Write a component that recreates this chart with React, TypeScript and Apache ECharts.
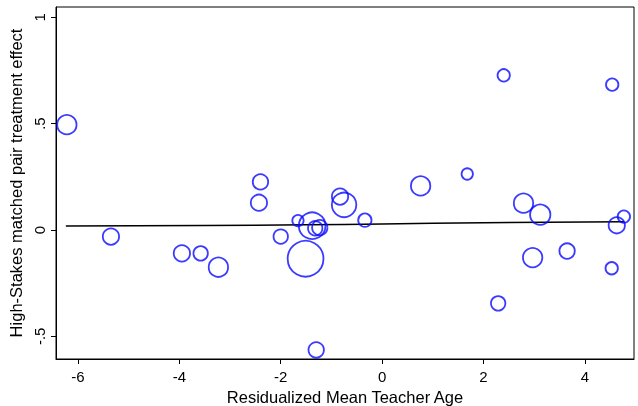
import React, { useEffect, useRef } from "react";
import * as echarts from "echarts";

// Bubble data: residualized mean teacher age (x), treatment effect (y), weight (bubble area)
const xValues = [
  -6.22, -5.35, -3.95, -3.58, -3.23, -2.40, -2.43, -2.00, -1.66, -1.51,
  -1.38, -1.32, -1.23, -1.30, -0.83, -0.75, -0.34, 0.76, 1.68, 2.29,
  2.40, 2.79, 3.12, 2.97, 3.65, 4.54, 4.53, 4.63, 4.77,
];
const yValues = [
  0.495, -0.031, -0.110, -0.110, -0.175, 0.226, 0.128, -0.031, 0.044, -0.135,
  0.020, 0.008, 0.011, -0.564, 0.157, 0.118, 0.046, 0.207, 0.263, -0.345,
  0.727, 0.126, 0.072, -0.130, -0.099, 0.683, -0.180, 0.022, 0.063,
];
const weights = [
  110, 80, 80, 64, 110, 72, 80, 64, 42, 350,
  200, 64, 72, 72, 80, 170, 56, 110, 42, 64,
  49, 110, 120, 110, 72, 49, 49, 80, 49,
];

// Fitted line
const fitX = [-6.24, -3.5, -1.5, 0, 2, 4.77];
const fitY = [0.019, 0.021, 0.024, 0.028, 0.034, 0.039];

const xTicks = [-6, -4, -2, 0, 2, 4];
const yTicks = [-0.5, 0, 0.5, 1];

const fmtY = (v: number) => {
  if (v === 0) return "0";
  if (v === 1) return "1";
  const s = String(v);
  return s.replace(/^(-?)0\./, "$1.");
};

export default function App() {
  const ref = useRef<HTMLDivElement>(null);
  useEffect(() => {
    if (!ref.current) return;
    const chart = echarts.init(ref.current, undefined, { renderer: "svg" });
    const font = "'Liberation Sans', Arial, Helvetica, sans-serif";
    const bubbles = xValues.map((x, i) => [x, yValues[i], weights[i]]);
    const fit = fitX.map((x, i) => [x, fitY[i]]);
    chart.setOption({
      animation: false,
      textStyle: { fontFamily: font },
      grid: {
        left: 56,
        top: 7,
        right: 4,
        bottom: 47,
        outerBoundsMode: "none",
        containLabel: false,
        show: true,
        borderColor: "#000",
        borderWidth: 1,
        backgroundColor: "#fff",
      },
      xAxis: {
        type: "value",
        min: -6.434,
        max: 4.97,
        name: "Residualized Mean Teacher Age",
        nameLocation: "middle",
        nameGap: 27,
        nameTextStyle: { fontSize: 16.5, color: "#000", fontFamily: font },
        axisLine: { show: true, onZero: false, lineStyle: { color: "#000", width: 1 } },
        axisTick: {
          show: true,
          length: 5,
          customValues: xTicks,
          lineStyle: { color: "#000", width: 1 },
        },
        axisLabel: {
          customValues: xTicks,
          fontSize: 15,
          color: "#000",
          margin: 10,
          fontFamily: font,
          formatter: (v: number) => String(v),
        },
        splitLine: { show: false },
      },
      yAxis: {
        type: "value",
        min: -0.6065,
        max: 1.048,
        name: "High-Stakes matched pair treatment effect",
        nameLocation: "middle",
        nameGap: 30,
        nameRotate: 90,
        nameTextStyle: { fontSize: 16.5, color: "#000", fontFamily: font },
        axisLine: { show: true, onZero: false, lineStyle: { color: "#000", width: 1 } },
        axisTick: {
          show: true,
          length: 5,
          customValues: yTicks,
          lineStyle: { color: "#000", width: 1 },
        },
        axisLabel: {
          customValues: yTicks,
          rotate: 90,
          fontSize: 15,
          color: "#000",
          margin: 9,
          fontFamily: font,
          formatter: (v: number) => fmtY(v),
        },
        splitLine: { show: false },
      },
      series: [
        {
          type: "scatter",
          data: bubbles,
          symbol: "circle",
          symbolSize: (val: number[]) => 2 * Math.sqrt(val[2]) - 1.6,
          itemStyle: {
            color: "rgba(0,0,0,0)",
            borderColor: "#0a0aff",
            borderWidth: 1.8,
          },
          z: 3,
        },
        {
          type: "line",
          data: fit,
          showSymbol: false,
          symbol: "none",
          smooth: true,
          lineStyle: { color: "#000", width: 1.5 },
          z: 2,
        },
      ],
    });
    return () => chart.dispose();
  }, []);
  return (
    <div
      ref={ref}
      style={{ position: "fixed", left: 0, top: 0, width: 638, height: 406 }}
    />
  );
}
